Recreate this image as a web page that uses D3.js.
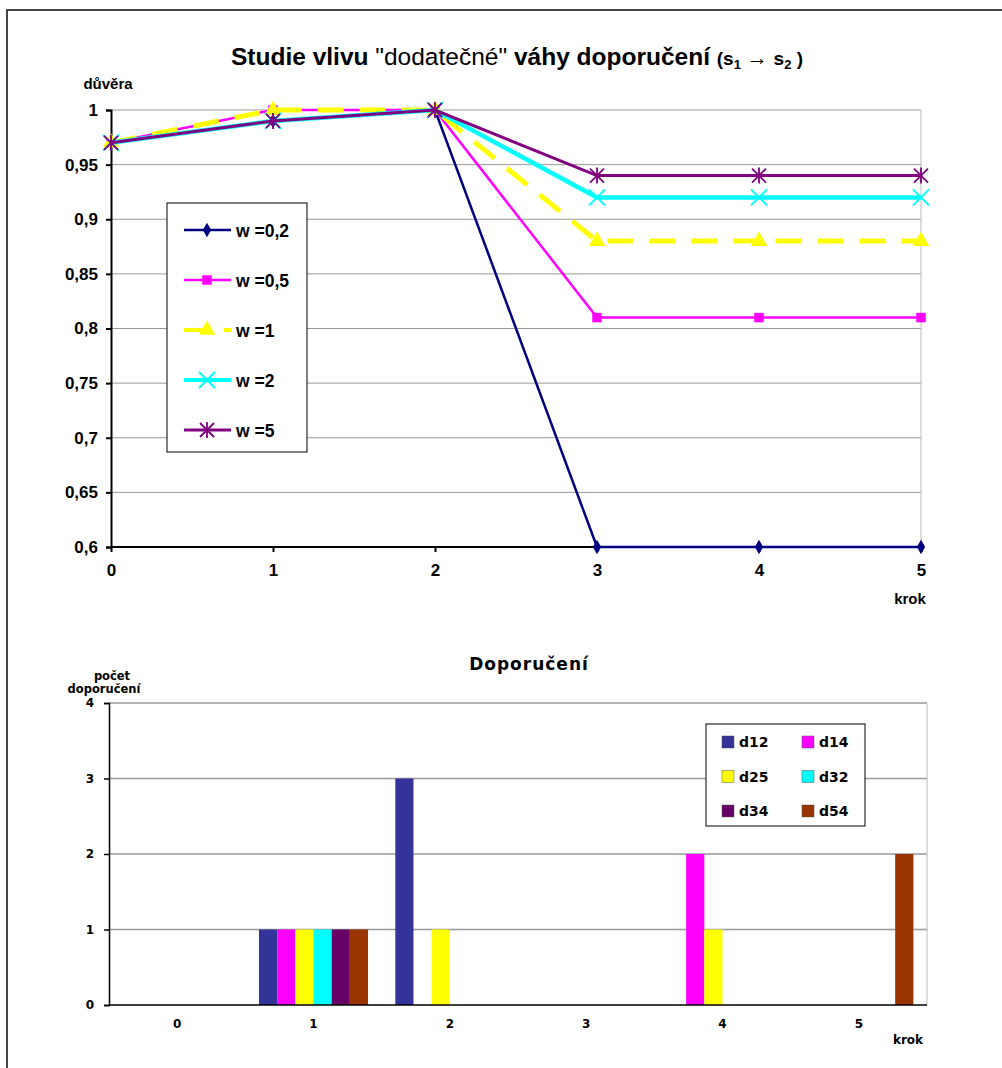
<!DOCTYPE html>
<html>
<head>
<meta charset="utf-8">
<script src="https://cdn.jsdelivr.net/npm/d3@7"></script>
<style>
body { margin: 0; background: #fff; }
svg { font-family: Arial, "Liberation Sans", sans-serif; }
.lab { font-weight: bold; fill: #000; }
.dv { font-family: "DejaVu Sans", Verdana, sans-serif; }
</style>
</head>
<body>
<svg id="chart" width="1002" height="1068"></svg>
<script>
// top chart data
var steps = [0, 1, 2, 3, 4, 5]
var yTicks1 = [0.6, 0.65, 0.7, 0.75, 0.8, 0.85, 0.9, 0.95, 1]
var w02 = [0.97, 0.99, 1, 0.6, 0.6, 0.6]
var w05 = [0.97, 1, 1, 0.81, 0.81, 0.81]
var w1 = [0.97, 1, 1, 0.88, 0.88, 0.88]
var w2 = [0.97, 0.99, 1, 0.92, 0.92, 0.92]
var w5 = [0.97, 0.99, 1, 0.94, 0.94, 0.94]
var seriesNames = ["w =0,2", "w =0,5", "w =1", "w =2", "w =5"]

// bottom chart data
var bars = ["d12", "d14", "d25", "d32", "d34", "d54"]
var d12 = [0, 1, 3, 0, 0, 0]
var d14 = [0, 1, 0, 0, 2, 0]
var d25 = [0, 1, 1, 0, 1, 0]
var d32 = [0, 1, 0, 0, 0, 0]
var d34 = [0, 1, 0, 0, 0, 0]
var d54 = [0, 1, 0, 0, 0, 2]
var yTicks2 = [0, 1, 2, 3, 4]

var svg = d3.select("#chart")

// outer frame
svg.append("rect").attr("x", 7).attr("y", 10).attr("width", 1000).attr("height", 1070)
    .attr("fill", "none").attr("stroke", "#444").attr("stroke-width", 2)

// ---------- top chart ----------
var x1 = d3.scalePoint().domain(steps).range([111, 921])
var y1 = d3.scaleLinear().domain([0.6, 1]).range([547, 110])
var fmt = function(v) { return String(v).replace(".", ",") }

var g1 = svg.append("g")

g1.selectAll("line.grid")
    .data(yTicks1.slice(1))
    .join("line")
    .classed("grid", true)
    .attr("x1", 111).attr("x2", 921)
    .attr("y1", d => y1(d)).attr("y2", d => y1(d))
    .style("stroke", "#999").style("stroke-width", "1px")

g1.append("line").attr("x1", 921).attr("x2", 921).attr("y1", 110).attr("y2", 547)
    .style("stroke", "#bbb")

var ax1 = g1.append("g").attr("transform", "translate(111,0)")
    .call(d3.axisLeft(y1).tickValues(yTicks1).tickFormat(fmt).tickSize(5).tickPadding(8))
ax1.selectAll("text").attr("class", "lab").style("font-size", "17px")
var bx1 = g1.append("g").attr("transform", "translate(0,547)")
    .call(d3.axisBottom(x1).tickSize(5).tickPadding(12))
bx1.selectAll("text").attr("class", "lab").style("font-size", "17px")
g1.selectAll(".domain, .tick line").style("stroke", "#000").style("stroke-width", "2px")
bx1.select(".domain").attr("d", "M111,0H921")

var styles = [
    { data: w02, color: "#000080", width: 2.5, dash: null, sym: d3.symbolDiamond, size: 60 },
    { data: w05, color: "#ff00ff", width: 2.5, dash: null, sym: d3.symbolSquare, size: 90 },
    { data: w1, color: "#ffff00", width: 5, dash: "26,16", sym: d3.symbolTriangle, size: 120 },
    { data: w2, color: "#00ffff", width: 4.5, dash: null, sym: "x", size: 8 },
    { data: w5, color: "#800080", width: 3, dash: null, sym: "star", size: 7 }
]

var line = d3.line().x((d, i) => x1(steps[i])).y(d => y1(d))

function marker(g, s, cx, cy) {
    if (s.sym == "x") {
        g.append("path").attr("d", "M" + (cx - s.size) + "," + (cy - s.size) + "L" + (cx + s.size) + "," + (cy + s.size)
            + "M" + (cx - s.size) + "," + (cy + s.size) + "L" + (cx + s.size) + "," + (cy - s.size))
            .style("stroke", s.color).style("stroke-width", "2px")
    } else if (s.sym == "star") {
        var r = s.size
        g.append("path").attr("d", "M" + (cx - r) + "," + (cy - r) + "L" + (cx + r) + "," + (cy + r)
            + "M" + (cx - r) + "," + (cy + r) + "L" + (cx + r) + "," + (cy - r)
            + "M" + cx + "," + (cy - r - 1) + "L" + cx + "," + (cy + r + 1))
            .style("stroke", s.color).style("stroke-width", "1.8px")
    } else {
        g.append("path").attr("d", d3.symbol().type(s.sym).size(s.size)())
            .attr("transform", "translate(" + cx + "," + cy + ")")
            .style("fill", s.color)
    }
}

styles.forEach(function(s) {
    g1.append("path").datum(s.data).attr("d", line)
        .style("fill", "none").style("stroke", s.color).style("stroke-width", s.width + "px")
        .style("stroke-dasharray", s.dash)
    var mg = g1.append("g")
    s.data.forEach(function(v, i) { marker(mg, s, x1(steps[i]), y1(v)) })
})

g1.append("text").attr("class", "lab").attr("x", 108).attr("y", 89).attr("text-anchor", "middle")
    .style("font-size", "15px").text("důvěra")
g1.append("text").attr("class", "lab").attr("x", 910).attr("y", 604).attr("text-anchor", "middle")
    .style("font-size", "15px").text("krok")

// title
var t = svg.append("text").attr("x", 517).attr("y", 65).attr("text-anchor", "middle").style("font-size", "24.5px")
t.append("tspan").style("font-weight", "bold").text("Studie vlivu ")
t.append("tspan").text("\"dodatečné\"")
t.append("tspan").style("font-weight", "bold").text(" váhy doporučení ")
t.append("tspan").style("font-weight", "bold").style("font-size", "19px").text("(s")
t.append("tspan").style("font-weight", "bold").style("font-size", "13px").attr("dy", 4).text("1")
t.append("tspan").style("font-size", "21px").attr("dy", -4).text("  → ")
t.append("tspan").style("font-weight", "bold").style("font-size", "19px").text("s")
t.append("tspan").style("font-weight", "bold").style("font-size", "13px").attr("dy", 4).text("2")
t.append("tspan").style("font-weight", "bold").style("font-size", "19px").attr("dy", -4).text(" )")

// legend top
var lg = svg.append("g")
lg.append("rect").attr("x", 167).attr("y", 203).attr("width", 140).attr("height", 249)
    .attr("fill", "#fff").attr("stroke", "#000").attr("stroke-width", 1)
styles.forEach(function(s, i) {
    var ly = 230 + i * 50
    lg.append("line").attr("x1", 184).attr("x2", 231).attr("y1", ly).attr("y2", ly)
        .style("stroke", s.color).style("stroke-width", Math.min(s.width, 4) + "px")
        .style("stroke-dasharray", s.dash ? "24,16" : null)
    marker(lg, s, 207, ly)
    lg.append("text").attr("class", "lab").attr("x", 236).attr("y", ly + 7)
        .style("font-size", "17.5px").text(seriesNames[i])
})

// ---------- bottom chart ----------
var barData = [d12, d14, d25, d32, d34, d54]
var barColors = ["#333399", "#ff00ff", "#ffff00", "#00ffff", "#660066", "#993300"]

var x2 = d3.scaleBand().domain(steps).range([109, 927])
var xIn = d3.scaleBand().domain(bars).range([0, x2.bandwidth() * 6 / 7.5])
var y2 = d3.scaleLinear().domain([0, 4]).range([1005, 703])

var g2 = svg.append("g").attr("class", "dv")
g2.selectAll("line.grid")
    .data(yTicks2.slice(1))
    .join("line")
    .classed("grid", true)
    .attr("x1", 109).attr("x2", 927)
    .attr("y1", d => y2(d)).attr("y2", d => y2(d))
    .style("stroke", "#999").style("stroke-width", "1.5px")
g2.append("line").attr("x1", 927).attr("x2", 927).attr("y1", 703).attr("y2", 1005)
    .style("stroke", "#bbb")

bars.forEach(function(b, k) {
    g2.selectAll("rect.b" + k)
        .data(barData[k])
        .join("rect")
        .attr("class", "b" + k)
        .attr("x", (d, i) => x2(steps[i]) + x2.bandwidth() * 0.75 / 7.5 + xIn(b))
        .attr("width", xIn.bandwidth())
        .attr("y", d => y2(d))
        .attr("height", d => y2(0) - y2(d))
        .style("fill", barColors[k])
})

var ax2 = g2.append("g").attr("transform", "translate(109,0)")
    .call(d3.axisLeft(y2).tickValues(yTicks2).tickFormat(d3.format("d")).tickSize(5).tickPadding(10))
ax2.selectAll("text").attr("class", "lab dv").style("font-size", "12px")
var bx2 = g2.append("g").attr("transform", "translate(0,1005)")
    .call(d3.axisBottom(x2).tickSize(0).tickPadding(14))
bx2.selectAll("text").attr("class", "lab dv").style("font-size", "12px")
bx2.selectAll("line.sep")
    .data(steps.concat([6]))
    .join("line")
    .attr("x1", d => 109 + d * x2.step()).attr("x2", d => 109 + d * x2.step())
    .attr("y1", 0).attr("y2", 5)
g2.selectAll(".domain, line.sep, .tick line").style("stroke", "#000").style("stroke-width", "1.5px")
bx2.select(".domain").attr("d", "M109,0H927")

g2.append("text").attr("class", "lab dv").attr("x", 529).attr("y", 670).attr("text-anchor", "middle")
    .style("font-size", "17px").style("letter-spacing", "1px").text("Doporučení")
g2.append("text").attr("class", "lab dv").attr("x", 112).attr("y", 680).attr("text-anchor", "middle")
    .style("font-size", "11.5px").text("počet")
g2.append("text").attr("class", "lab dv").attr("x", 104).attr("y", 693).attr("text-anchor", "middle")
    .style("font-size", "11.5px").text("doporučení")
g2.append("text").attr("class", "lab dv").attr("x", 908).attr("y", 1044).attr("text-anchor", "middle")
    .style("font-size", "12px").text("krok")

// legend bottom
var lg2 = svg.append("g").attr("class", "dv")
lg2.append("rect").attr("x", 706).attr("y", 724).attr("width", 159).attr("height", 102)
    .attr("fill", "#fff").attr("stroke", "#000").attr("stroke-width", 1)
bars.forEach(function(b, k) {
    var cx = 722 + (k % 2) * 80
    var cy = 742 + Math.floor(k / 2) * 34.5
    lg2.append("rect").attr("x", cx).attr("y", cy - 6).attr("width", 12).attr("height", 12)
        .style("fill", barColors[k]).style("stroke", "#555").style("stroke-width", "0.5px")
    lg2.append("text").attr("class", "lab dv").attr("x", cx + 17).attr("y", cy + 5)
        .style("font-size", "14px").text(b)
})
</script>
</body>
</html>
